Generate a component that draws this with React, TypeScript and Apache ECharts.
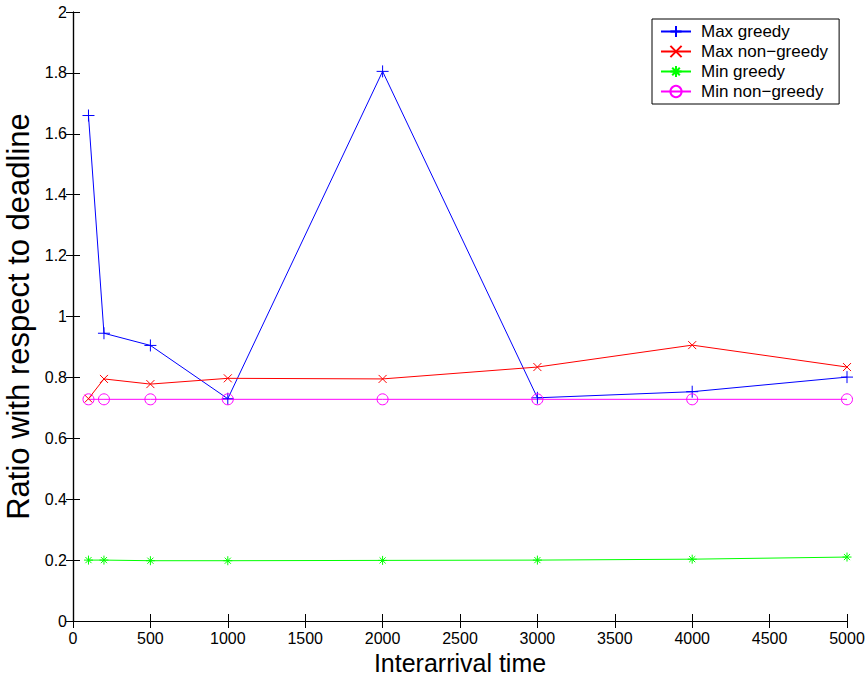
import React, { useEffect, useRef } from "react";
import * as echarts from "echarts";

const xValues = [100, 200, 500, 1000, 2000, 3000, 4000, 5000];
const maxGreedy = [1.66, 0.945, 0.905, 0.73, 1.805, 0.733, 0.753, 0.801];
const maxNonGreedy = [0.73, 0.795, 0.778, 0.797, 0.795, 0.834, 0.906, 0.834];
const minGreedy = [0.2, 0.2, 0.198, 0.198, 0.199, 0.2, 0.203, 0.21];
const minNonGreedy = [0.728, 0.728, 0.728, 0.728, 0.728, 0.728, 0.728, 0.728];
const seriesNames = ["Max greedy", "Max non\u2212greedy", "Min greedy", "Min non\u2212greedy"];

const FONT = "'Liberation Sans', Arial, Helvetica, sans-serif";

export default function App() {
  const ref = useRef<HTMLDivElement>(null);
  useEffect(() => {
    if (!ref.current) return;
    const chart = echarts.init(ref.current, undefined, { renderer: "svg" });
    const mk = (name: string, data: number[], color: string, symbol: string, size: number) => ({
      name,
      type: "line",
      data: xValues.map((x, i) => [x, data[i]]),
      symbol,
      symbolSize: size,
      showAllSymbol: true,
      lineStyle: { color, width: 1 },
      itemStyle: { color: "transparent", borderColor: color, borderWidth: 1 },
      emphasis: { disabled: true },
    });
    const axisCommon = {
      type: "value",
      axisLine: { show: true, lineStyle: { color: "#000", width: 1.2 } },
      axisTick: { show: true, inside: true, length: 7, lineStyle: { color: "#000" } },
      splitLine: { show: false },
    };
    chart.setOption({
      animation: false,
      backgroundColor: "#fff",
      textStyle: { fontFamily: FONT },
      grid: { left: 73, right: 18, top: 12, bottom: 56, containLabel: false, outerBoundsMode: "none" },
      legend: {
        orient: "vertical",
        left: 652,
        top: 19,
        data: seriesNames,
        backgroundColor: "#fff",
        borderColor: "#000",
        borderWidth: 1,
        borderRadius: 0,
        padding: [4, 11, 4, 8],
        itemWidth: 30,
        itemHeight: 14,
        itemGap: 3,
        textStyle: { fontSize: 17, color: "#000", fontFamily: FONT, lineHeight: 17, padding: [0, 0, 0, 5] },
      },
      xAxis: [
        {
          ...axisCommon,
          min: 0,
          max: 5000,
          interval: 500,
          name: "Interarrival time",
          nameLocation: "middle",
          nameGap: 19,
          nameTextStyle: { fontSize: 25, color: "#000", fontFamily: FONT, lineHeight: 25 },
          axisLabel: { fontSize: 16, color: "#000", margin: 9, fontFamily: FONT, formatter: (v: number) => String(v) },
        },
        {
          ...axisCommon,
          position: "top",
          min: 0,
          max: 5000,
          interval: 500,
          axisLabel: { show: false },
        },
      ],
      yAxis: [
        {
          ...axisCommon,
          min: 0,
          max: 2,
          interval: 0.2,
          name: "Ratio with respect to deadline",
          nameLocation: "middle",
          nameGap: 36,
          nameTextStyle: { fontSize: 31, color: "#000", fontFamily: FONT },
          axisLabel: { fontSize: 16, color: "#000", margin: 6, fontFamily: FONT, formatter: (v: number) => String(Math.round(v * 10) / 10) },
        },
        {
          ...axisCommon,
          position: "right",
          min: 0,
          max: 2,
          interval: 0.2,
          axisLabel: { show: false },
        },
      ],
      series: [
        mk(seriesNames[0], maxGreedy, "#0000ff", "path://M5,0L5,10M0,5L10,5", 12),
        mk(seriesNames[1], maxNonGreedy, "#ff0000", "path://M0,0L10,10M10,0L0,10", 8),
        mk(seriesNames[2], minGreedy, "#00ff00", "path://M5,0L5,10M0,5L10,5M1.6,1.6L8.4,8.4M8.4,1.6L1.6,8.4", 9),
        mk(seriesNames[3], minNonGreedy, "#ff00ff", "circle", 11),
      ],
    });
    return () => chart.dispose();
  }, []);
  return <div ref={ref} style={{ width: 865, height: 677, position: "absolute", left: 0, top: 0 }} />;
}
